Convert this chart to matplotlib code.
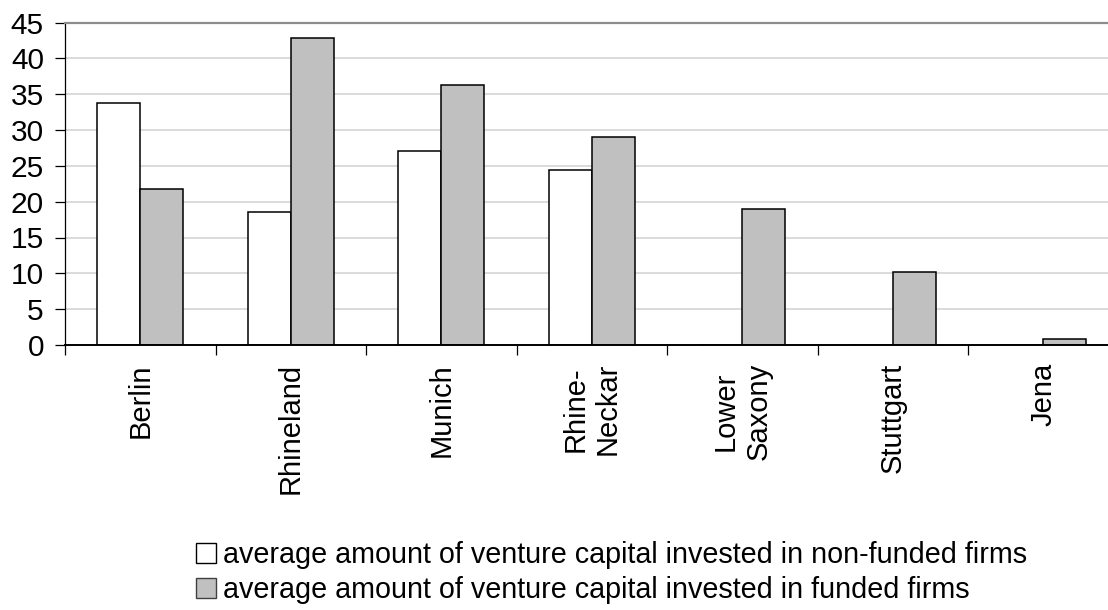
import matplotlib
matplotlib.use("Agg")
import matplotlib.pyplot as plt
from matplotlib.patches import Patch
import numpy as np

plt.rcParams['font.family'] = ['Liberation Sans', 'DejaVu Sans']

categories = ["Berlin", "Rhineland", "Munich", "Rhine-\nNeckar", "Lower\nSaxony", "Stuttgart", "Jena"]
non_funded = [33.8, 18.6, 27.1, 24.4, 0, 0, 0]
funded = [21.7, 42.8, 36.3, 29.0, 19.0, 10.2, 0.8]
y_ticks = [0, 5, 10, 15, 20, 25, 30, 35, 40, 45]
legend_labels = ["average amount of venture capital invested in non-funded firms",
                 "average amount of venture capital invested in funded firms"]

W, H = 1108, 610
fig = plt.figure(figsize=(W / 100, H / 100), dpi=100)
left_px, right_px, top_px, bot_px = 65, 65 + 7 * 150.5, 22.5, 345
ax = fig.add_axes([left_px / W, 1 - bot_px / H, (right_px - left_px) / W, (bot_px - top_px) / H])

x = np.arange(len(categories))
bw = 0.285
ax.bar(x - bw / 2, non_funded, bw, color="white", edgecolor="black", linewidth=1.1, zorder=3)
ax.bar(x + bw / 2, funded, bw, color="#c0c0c0", edgecolor="black", linewidth=1.1, zorder=3)

ax.set_xlim(-0.5, len(categories) - 0.5)
ax.set_ylim(0, 45)
ax.set_yticks(y_ticks)
ax.set_yticklabels([str(v) for v in y_ticks], fontsize=21.5)
for v in y_ticks[1:-1]:
    ax.axhline(v, color="#d4d4d4", linewidth=1.2, zorder=1)

ax.set_xticks(x)
ax.set_xticklabels(categories, rotation=90, fontsize=21, va="top", ha="center",
                   multialignment="center")
ax.set_xticks(np.arange(-0.5, len(categories), 1), minor=True)
ax.tick_params(axis="x", which="major", length=0, pad=13)
ax.tick_params(axis="x", which="minor", length=7.2, width=0.9, direction="out", color="black")
ax.tick_params(axis="y", length=7.2, width=0.9, direction="out", pad=8, color="black")

ax.spines["right"].set_visible(False)
ax.spines["top"].set_color("#8c8c8c")
ax.spines["top"].set_linewidth(1.6)
ax.spines["left"].set_color("black")
ax.spines["left"].set_linewidth(0.9)
ax.spines["bottom"].set_color("black")
ax.spines["bottom"].set_linewidth(1.4)
ax.spines["bottom"].set_zorder(4)

handles = [Patch(facecolor="white", edgecolor="black", linewidth=1.0),
           Patch(facecolor="#c0c0c0", edgecolor="#404040", linewidth=1.0)]
fig.legend(handles, legend_labels, loc="upper left",
           bbox_to_anchor=(196 / W, 1 - 541 / H), frameon=False, fontsize=20.7,
           handlelength=0.7, handleheight=0.7, handletextpad=0.25, labelspacing=0.25,
           borderpad=0, borderaxespad=0)

fig.savefig("out.png", dpi=100)
